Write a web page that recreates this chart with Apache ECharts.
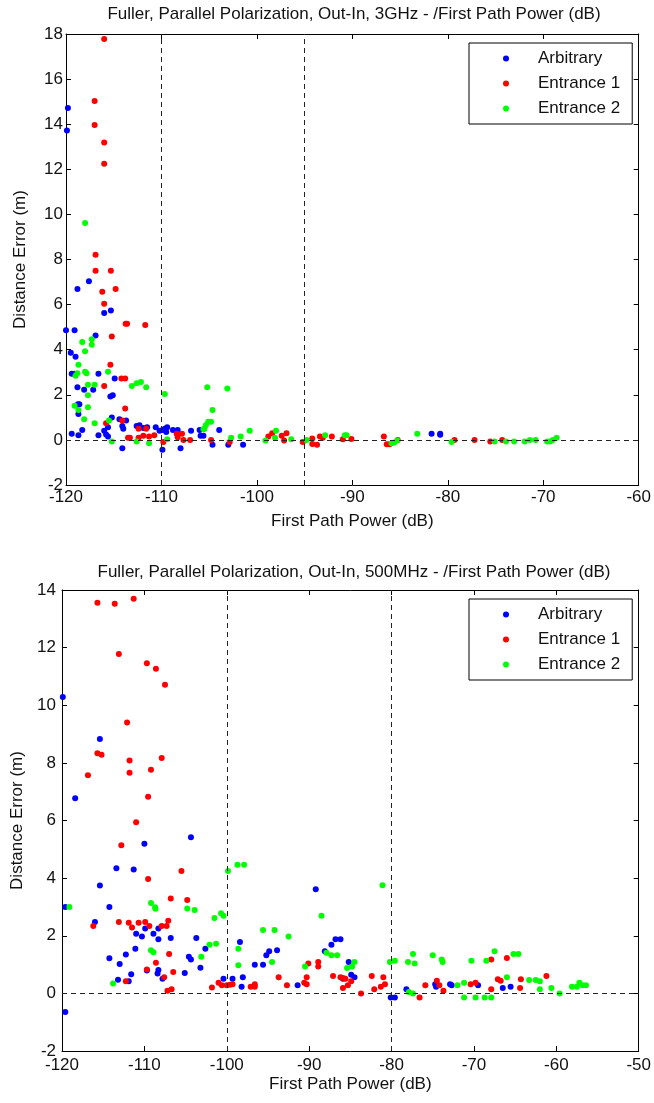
<!DOCTYPE html>
<html>
<head>
<meta charset="utf-8">
<script src="https://cdn.jsdelivr.net/npm/echarts@6/dist/echarts.min.js"></script>
<style>
  html, body { margin: 0; padding: 0; background: #fff; }
  #chart { width: 654px; height: 1103px; }
</style>
</head>
<body>
<div id="chart"></div>
<script>
// series names shared by both panels
const seriesNames = ['Arbitrary', 'Entrance 1', 'Entrance 2'];
const seriesColors = ['#0000ff', '#ff0000', '#00ff00'];

// ---- 3GHz panel: [first path power (dB), distance error (m)]
const ghzArbitrary = [
  [-119.8,14.72],[-119.9,13.72],[-117.6,7.03],[-118.8,6.69],[-115.3,5.74],[-116.0,5.63],[-120.0,4.86],[-119.1,4.86],
  [-116.9,4.63],[-119.5,3.87],[-119.0,3.69],[-119.4,2.93],[-119.1,2.93],[-118.8,2.34],[-118.1,2.22],[-118.75,1.58],
  [-118.6,1.58],[-118.7,1.15],[-116.6,2.93],[-117.15,2.22],[-115.35,1.92],[-115.1,1.98],[-114.9,2.72],[-115.2,0.99],
  [-114.4,0.92],[-113.7,0.86],[-114.1,0.62],[-114.0,0.50],[-119.4,0.27],[-118.7,0.21],[-118.3,0.44],[-116.6,0.21],
  [-116.0,0.41],[-115.8,0.24],[-115.6,0.56],[-115.6,0.15],[-114.1,-0.37],[-112.6,0.62],[-112.3,0.65],[-111.9,0.53],
  [-111.5,0.56],[-110.6,0.56],[-110.2,0.41],[-109.9,0.44],[-109.65,0.50],[-109.4,0.56],[-109.5,0.35],[-109.9,-0.44],
  [-108.8,0.44],[-108.3,0.44],[-108.0,-0.37],[-106.9,0.41],[-106.0,0.44],[-105.9,0.18],[-105.6,0.18],[-104.65,-0.21],
  [-103.95,0.44],[-103.0,-0.21],[-101.45,-0.21],[-81.7,0.27],[-80.8,0.27],[-80.8,0.23]
];
const ghzEntrance1 = [
  [-116.0,17.78],[-117.0,15.03],[-117.0,13.96],[-116.0,13.19],[-116.0,12.25],[-116.9,8.21],[-116.9,7.50],[-115.3,7.50],
  [-114.8,6.69],[-116.2,6.57],[-116.0,6.04],[-113.75,5.15],[-113.6,5.15],[-111.7,5.09],[-115.2,4.58],[-115.35,3.33],
  [-116.0,2.39],[-114.2,2.72],[-113.8,2.72],[-113.8,1.39],[-115.8,0.74],[-114.1,0.86],[-113.5,0.10],[-113.3,0.10],
  [-112.4,0.50],[-112.4,0.10],[-111.9,0.18],[-111.6,0.50],[-111.3,0.15],[-110.75,0.21],[-109.8,-0.09],[-108.4,0.27],
  [-107.85,0.27],[-107.7,0.0],[-108.3,0.12],[-107.0,0.0],[-104.8,0.0],[-102.85,-0.09],[-98.8,0.15],[-98.4,0.30],
  [-97.4,0.18],[-96.9,0.30],[-97.15,-0.03],[-95.2,-0.09],[-94.2,0.06],[-94.2,-0.18],[-93.7,-0.21],[-93.4,0.15],
  [-93.1,0.09],[-92.15,0.15],[-91.0,0.03],[-90.1,0.04],[-86.7,0.15],[-86.4,-0.19],[-86.1,-0.19],[-85.25,0.0],
  [-79.3,0.0],[-77.2,0.0],[-75.55,-0.07],[-74.3,0.0]
];
const ghzEntrance2 = [
  [-118.0,9.62],[-117.3,4.46],[-118.3,4.34],[-117.3,4.22],[-118.0,3.93],[-118.7,3.33],[-119.0,2.85],[-118.8,2.96],
  [-117.85,2.96],[-118.0,3.02],[-117.7,2.45],[-117.0,2.45],[-117.7,1.98],[-115.6,3.02],[-113.1,2.39],[-112.6,2.51],
  [-112.15,2.57],[-111.6,2.34],[-119.1,1.51],[-118.7,1.33],[-117.7,1.45],[-118.1,0.92],[-117.0,0.74],[-115.5,0.86],
  [-115.2,-0.07],[-112.6,-0.07],[-111.3,-0.15],[-109.65,2.04],[-109.4,0.03],[-105.2,2.34],[-103.1,2.28],[-104.65,1.33],
  [-105.6,0.47],[-105.35,0.65],[-105.1,0.80],[-104.8,0.80],[-105.5,0.50],[-102.7,0.09],[-101.7,0.15],[-100.75,0.41],
  [-99.1,-0.03],[-98.0,0.41],[-98.1,0.09],[-96.4,0.03],[-94.8,0.0],[-92.85,0.21],[-90.8,0.21],[-90.6,0.21],
  [-85.9,-0.15],[-85.6,-0.12],[-85.3,-0.03],[-83.2,0.27],[-79.6,-0.09],[-75.1,-0.07],[-73.9,-0.07],[-73.05,-0.07],
  [-71.95,-0.07],[-71.4,0.0],[-70.8,0.0],[-69.6,-0.07],[-69.3,-0.07],[-69.0,0.0],[-68.6,0.1]
];

// ---- 500MHz panel
const mhzArbitrary = [
  [-119.9,10.29],[-115.4,8.83],[-118.4,6.77],[-104.35,5.42],[-110.0,5.19],[-113.4,4.34],[-111.3,4.30],[-115.4,3.74],
  [-119.6,3.0],[-114.25,3.0],[-116.0,2.48],[-114.25,1.22],[-113.0,1.02],[-112.25,1.35],[-113.2,0.47],[-111.9,0.42],
  [-111.6,0.66],[-111.1,1.55],[-111.0,2.07],[-110.3,1.97],[-109.9,2.25],[-108.9,2.07],[-108.3,2.25],[-108.3,1.88],
  [-109.7,0.79],[-108.4,0.69],[-108.3,0.81],[-107.8,0.51],[-106.8,1.92],[-105.1,0.71],[-104.6,1.27],[-104.35,1.18],
  [-103.7,1.92],[-103.2,0.89],[-102.6,1.55],[-100.4,0.51],[-99.3,0.51],[-98.4,1.78],[-98.05,0.56],[-98.2,0.23],
  [-119.6,-0.65],[-89.2,3.61],[-96.6,0.99],[-95.6,0.99],[-95.2,1.32],[-94.85,1.46],[-93.9,1.50],[-91.4,0.28],
  [-88.1,1.46],[-87.3,1.69],[-86.8,1.88],[-86.2,1.88],[-85.2,1.09],[-85.9,0.51],[-84.9,0.65],[-84.5,0.56],
  [-80.1,-0.14],[-79.6,-0.14],[-78.2,0.14],[-74.7,0.32],[-74.6,0.23],[-72.9,0.32],[-72.7,0.28],[-69.5,0.28],
  [-66.5,0.19],[-65.55,0.23]
];
const mhzEntrance1 = [
  [-115.7,13.56],[-113.6,13.52],[-111.3,13.70],[-113.1,11.78],[-109.7,11.46],[-108.6,11.27],[-107.5,10.71],[-112.1,9.40],
  [-115.7,8.33],[-115.2,8.28],[-111.8,8.08],[-107.9,8.17],[-116.85,7.57],[-111.8,7.66],[-109.2,7.76],[-109.55,6.82],
  [-111.0,5.94],[-112.8,5.14],[-105.5,4.25],[-109.55,3.97],[-116.2,2.34],[-113.1,2.48],[-111.9,2.45],[-111.5,2.29],
  [-110.7,2.45],[-109.9,2.48],[-109.4,2.34],[-107.9,2.34],[-107.3,2.34],[-107.1,2.52],[-106.8,3.29],[-104.8,3.24],
  [-112.25,0.42],[-109.7,0.83],[-108.6,1.06],[-107.6,0.56],[-107.0,1.37],[-106.5,0.74],[-107.2,0.09],[-106.7,0.14],
  [-101.8,0.20],[-101.0,0.37],[-100.6,0.28],[-100.0,0.28],[-99.6,0.30],[-99.3,0.32],[-97.1,0.23],[-96.6,0.32],
  [-96.6,0.23],[-93.7,0.56],[-92.7,0.28],[-90.6,0.37],[-90.3,0.32],[-90.3,0.56],[-90.1,1.04],[-88.9,1.09],
  [-88.9,0.93],[-87.1,0.60],[-86.2,0.56],[-85.9,0.53],[-85.6,0.51],[-85.9,0.19],[-85.3,0.28],[-84.9,0.42],
  [-83.7,0.0],[-82.4,0.60],[-82.1,0.14],[-81.3,0.23],[-81.0,0.56],[-80.8,0.32],[-76.6,-0.14],[-75.9,0.28],
  [-74.5,0.44],[-74.2,0.28],[-73.7,0.09],[-70.4,0.32],[-69.8,0.37],[-67.9,0.14],[-67.9,1.18],[-67.1,0.49],
  [-66.75,0.44],[-66.0,1.23],[-64.4,0.19],[-64.3,0.49],[-61.2,0.60]
];
const mhzEntrance2 = [
  [-99.85,4.25],[-98.7,4.46],[-97.9,4.46],[-119.1,3.0],[-113.8,0.34],[-109.2,3.14],[-108.7,2.99],[-108.65,2.94],
  [-109.2,1.50],[-108.9,1.43],[-104.8,2.95],[-103.9,2.89],[-103.1,1.27],[-102.1,1.69],[-101.3,1.72],[-101.5,2.62],
  [-100.7,2.78],[-100.4,2.69],[-98.6,1.55],[-98.6,0.98],[-95.6,2.20],[-94.2,2.20],[-92.5,1.97],[-94.5,1.09],
  [-90.5,0.93],[-88.5,2.69],[-87.9,1.41],[-87.3,1.32],[-86.6,1.32],[-85.4,0.88],[-84.8,0.93],[-84.5,1.09],
  [-81.1,3.75],[-80.2,1.09],[-79.6,1.13],[-78.0,1.09],[-77.4,1.37],[-77.2,1.04],[-77.9,0.05],[-77.4,0.0],
  [-75.0,1.32],[-73.9,1.18],[-73.8,1.09],[-72.0,0.28],[-71.2,0.37],[-71.2,-0.14],[-70.3,1.13],[-69.8,-0.14],
  [-68.7,-0.14],[-67.9,-0.14],[-68.5,1.13],[-67.5,1.46],[-66.0,0.56],[-65.2,1.37],[-64.6,1.37],[-63.3,0.46],
  [-62.5,0.46],[-62.0,0.42],[-62.0,0.14],[-60.6,0.19],[-59.6,0.0],[-58.1,0.23],[-57.5,0.23],[-57.2,0.37],
  [-56.8,0.28],[-56.4,0.28]
];

// axis ranges + dashed reference lines
const ghzX = [-120, -60], ghzY = [-2, 18], ghzRefX = [-110, -95];
const mhzX = [-120, -50], mhzY = [-2, 14], mhzRefX = [-100, -80];

const titles = [
  'Fuller, Parallel Polarization, Out-In, 3GHz - /First Path Power (dB)',
  'Fuller, Parallel Polarization, Out-In, 500MHz - /First Path Power (dB)'
];

const FONT = '"Liberation Sans", Arial, Helvetica, sans-serif';
const txt = { color: '#111', fontSize: 17, fontFamily: FONT };

const grids = [
  { left: 66, top: 34, width: 577, height: 451 },
  { left: 62, top: 590, width: 584, height: 461 }
];

const axisLine = { onZero: false, lineStyle: { color: '#000', width: 1 } };
const axisTick = { inside: true, length: 5, lineStyle: { color: '#000', width: 1 } };

function makeXAxes(gi, range, labelMargin, nameGap) {
  return [
    {
      gridIndex: gi, type: 'value', position: 'bottom', min: range[0], max: range[1], interval: 10,
      axisLine, axisTick, splitLine: { show: false },
      axisLabel: Object.assign({ margin: labelMargin }, txt),
      name: 'First Path Power (dB)', nameLocation: 'middle', nameGap, nameTextStyle: txt
    },
    {
      gridIndex: gi, type: 'value', position: 'top', min: range[0], max: range[1], interval: 10,
      axisLine, axisTick, splitLine: { show: false }, axisLabel: { show: false }
    }
  ];
}
function makeYAxes(gi, range, labelMargin, nameGap) {
  return [
    {
      gridIndex: gi, type: 'value', position: 'left', min: range[0], max: range[1], interval: 2,
      axisLine, axisTick, splitLine: { show: false },
      axisLabel: Object.assign({ margin: labelMargin }, txt),
      name: 'Distance Error (m)', nameLocation: 'middle', nameGap, nameTextStyle: txt
    },
    {
      gridIndex: gi, type: 'value', position: 'right', min: range[0], max: range[1], interval: 2,
      axisLine, axisTick, splitLine: { show: false }, axisLabel: { show: false }
    }
  ];
}

function refSeries(axisIdx, refX) {
  return {
    name: 'ref', type: 'line', data: [], xAxisIndex: axisIdx, yAxisIndex: axisIdx, z: 1, silent: true,
    markLine: {
      silent: true, symbol: 'none', animation: false,
      label: { show: false },
      lineStyle: { color: '#222', type: [5, 4], width: 1 },
      data: [{ xAxis: refX[0] }, { xAxis: refX[1] }, { yAxis: 0 }]
    }
  };
}

function scatterSeries(axisIdx, datasets) {
  return datasets.map((d, i) => ({
    name: seriesNames[i], type: 'scatter', data: d,
    xAxisIndex: axisIdx, yAxisIndex: axisIdx, z: 2,
    symbol: 'circle', symbolSize: 6,
    itemStyle: { color: seriesColors[i], opacity: 1 }
  }));
}

function makeLegend(top) {
  return {
    orient: 'vertical', left: 469, top,
    data: seriesNames, icon: 'circle',
    itemWidth: 54, itemHeight: 6, itemGap: 8,
    padding: [7, 12, 7, 34],
    borderColor: '#000', borderWidth: 1, backgroundColor: '#fff',
    textStyle: txt, selectedMode: false
  };
}

const option = {
  animation: false,
  backgroundColor: '#fff',
  grid: grids,
  xAxis: [...makeXAxes(0, ghzX, 4, 28), ...makeXAxes(1, mhzX, 6, 25)],
  yAxis: [...makeYAxes(0, ghzY, 3, 37), ...makeYAxes(1, mhzY, 6, 33)],
  legend: [makeLegend(43), makeLegend(599)],
  graphic: [
    { type: 'text', x: 354, y: 14, style: { text: titles[0], textAlign: 'center', textVerticalAlign: 'middle', fill: '#111', font: '17px ' + FONT } },
    { type: 'text', x: 354, y: 572, style: { text: titles[1], textAlign: 'center', textVerticalAlign: 'middle', fill: '#111', font: '17px ' + FONT } }
  ],
  series: [
    refSeries(0, ghzRefX),
    ...scatterSeries(0, [ghzArbitrary, ghzEntrance1, ghzEntrance2]),
    refSeries(2, mhzRefX),
    ...scatterSeries(2, [mhzArbitrary, mhzEntrance1, mhzEntrance2])
  ]
};

const myChart = echarts.init(document.getElementById('chart'), null, { renderer: 'canvas' });
myChart.setOption(option);
</script>
</body>
</html>
